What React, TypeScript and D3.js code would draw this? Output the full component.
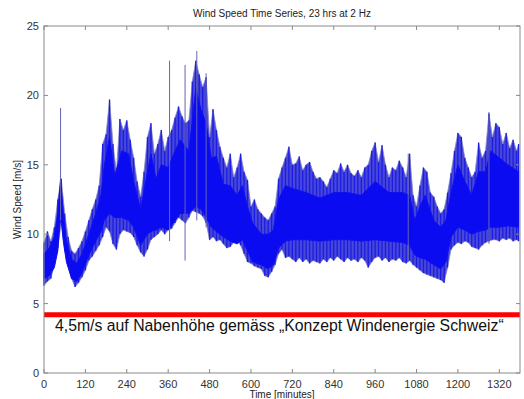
import React from 'react';
import * as d3 from 'd3';

// outer envelope (extremes of the 2 Hz trace), every 10 minutes (0 .. 1380)
const highEnvelope = [
  9.4, 10.2, 9.5, 10.5, 12.5, 14.0, 11.5, 9.8, 8.8, 8.6,
  9.0, 9.5, 10.2, 11.0, 11.8, 12.5, 13.5, 16.5, 17.2, 19.7,
  16.5, 14.5, 18.3, 17.5, 18.2, 16.8, 15.5, 13.8, 12.7, 14.5,
  17.0, 18.0, 15.8, 16.5, 17.5, 16.0, 17.0, 17.5, 18.4, 19.2,
  18.5, 18.0, 18.2, 21.0, 22.5, 21.5, 20.6, 21.3, 17.0, 19.0,
  17.5, 16.3, 15.5, 14.8, 15.8, 14.1, 14.8, 15.8, 14.5, 13.9,
  12.0, 12.5, 11.8, 11.5, 11.2, 11.0, 11.5, 12.0, 14.0, 14.8,
  15.5, 16.3, 15.0, 15.1, 15.6, 14.6, 15.0, 15.2, 14.5, 14.0,
  14.1, 13.8, 13.4, 14.0, 14.6, 14.4, 15.1, 14.5, 15.0, 14.4,
  14.2, 14.6, 14.1, 14.8, 15.0, 16.0, 16.6, 15.2, 16.4, 15.0,
  14.1, 14.8, 14.6, 15.3, 14.8, 14.1, 15.8, 12.8, 12.0, 13.5,
  14.8, 14.5, 13.0, 12.7, 12.0, 11.5, 11.8, 13.0, 14.4, 16.0,
  17.3, 17.0, 15.5, 14.8, 14.1, 14.5, 16.6, 15.5, 16.0, 18.7,
  17.0, 18.0, 17.7, 16.5, 17.3, 16.2, 16.8, 16.0, 16.5
];

const lowEnvelope = [
  6.3, 6.6, 6.8, 7.8, 9.0, 10.8, 8.8, 7.8, 6.8, 6.2,
  6.5, 6.9, 7.4, 8.1, 8.4, 8.8, 9.2, 9.8, 10.5, 10.2,
  9.3, 8.9, 10.0, 10.3, 10.2, 10.1, 9.8, 9.2, 8.7, 8.4,
  8.9, 9.6, 9.8, 10.0, 10.3, 10.0, 10.3, 10.4, 10.8, 11.2,
  11.0, 10.8, 11.2, 11.7, 11.6, 11.5, 11.3, 10.8, 9.6, 9.8,
  9.5, 9.6, 9.3, 9.0, 9.1, 9.4, 9.6, 9.2, 8.6, 8.0,
  7.9, 7.7, 7.6, 7.5, 7.0, 6.9, 7.3, 7.8, 8.6, 8.9,
  8.3, 8.4, 8.2, 8.0, 8.3, 8.0, 8.2, 7.9, 8.1, 8.0,
  7.9, 8.2, 8.0, 8.3, 8.1, 8.4, 8.2, 8.0, 8.3, 8.1,
  8.2, 8.0, 8.3, 8.1, 7.6, 8.0, 8.3, 8.4, 8.1, 8.3,
  8.0, 8.2, 8.1, 8.3, 8.0, 7.9, 8.1, 7.8, 7.6, 7.4,
  7.2, 7.1, 7.0, 6.9, 6.8, 6.7, 6.5, 7.6, 8.9, 9.2,
  9.4, 9.3, 9.5, 9.4, 9.1, 9.0, 8.9, 9.2, 9.4, 9.5,
  9.6, 9.6, 9.5, 9.7, 9.6, 9.7, 9.5, 9.6, 9.5
];

// dense core of the trace (where the blue is solid)
const coreMinutes = [
  0, 15, 30, 40, 48, 56, 65, 80, 95, 110, 130, 150, 165, 175, 190, 205, 225, 245, 260, 280,
  300, 310, 325, 340, 360, 380, 395, 420, 440, 455, 470, 485, 500, 520, 540, 560, 575, 590, 605, 630,
  650, 665, 680, 700, 720, 760, 800, 840, 880, 920, 960, 1000, 1040, 1060, 1075, 1090, 1105, 1130, 1150, 1165,
  1180, 1200, 1220, 1240, 1260, 1280, 1295, 1320, 1345, 1376
];
const coreTop = [
  8.6, 9.0, 9.8, 11.5, 14.0, 11.5, 9.5, 8.2, 7.9, 8.6, 10.0, 11.5, 12.8, 15.0, 17.0, 14.2, 16.0, 15.8, 13.8, 11.8,
  14.5, 15.8, 14.0, 15.0, 14.8, 16.0, 16.8, 16.0, 20.5, 19.0, 18.0, 15.5, 15.6, 13.6, 13.5, 12.8, 13.5, 12.0, 10.8, 10.0,
  10.0, 10.3, 12.5, 13.5, 13.3, 13.0, 12.6, 13.0, 13.0, 12.8, 13.8, 13.0, 13.0, 12.8, 11.0, 12.0, 12.8, 11.0, 10.5, 11.0,
  13.0, 15.0, 13.8, 12.8, 14.5, 14.5, 16.0, 15.5, 15.0, 14.5
];
const coreBottom = [
  6.8, 7.0, 7.6, 8.8, 11.5, 9.5, 8.0, 6.8, 6.6, 7.2, 8.5, 9.5, 10.2, 11.0, 11.5, 11.2, 11.2, 11.0, 10.5, 9.2,
  10.0, 10.2, 10.3, 10.5, 10.3, 11.0, 11.5, 11.5, 12.0, 11.8, 11.2, 10.5, 10.2, 9.8, 9.5, 9.3, 9.6, 8.8, 8.0, 7.8,
  7.5, 7.8, 9.0, 9.5, 9.6, 9.6, 9.5, 9.6, 9.6, 9.5, 9.6, 9.5, 9.4, 9.2, 8.5, 8.3, 8.2, 7.8, 7.5, 8.0,
  9.8, 10.5, 10.3, 10.0, 10.2, 10.3, 10.5, 10.5, 10.6, 10.5
];

// isolated gusts that stick out of the envelope
const spikeMinutes = [48, 364, 409, 443, 470, 1056, 1290];
const spikeLow = [11.0, 9.5, 8.1, 11.0, 10.5, 8.0, 9.3];
const spikeHigh = [19.1, 22.5, 22.2, 23.2, 21.6, 15.8, 18.8];

const xTicks = [0, 120, 240, 360, 480, 600, 720, 840, 960, 1080, 1200, 1320];
const yTicks = [0, 5, 10, 15, 20, 25];
const threshold = 4.2;

const width = 524;
const height = 399;
const margin = { top: 26, right: 4, bottom: 26, left: 44 };

type Band = { t: number; hi: number; lo: number };

export default function App() {
  const x = d3.scaleLinear().domain([0, 1380]).range([margin.left, width - margin.right]);
  const y = d3.scaleLinear().domain([0, 25]).range([height - margin.bottom, margin.top]);

  const outer: Band[] = highEnvelope.map((h, i) => ({ t: Math.min(i * 10, 1376), hi: h, lo: lowEnvelope[i] }));
  const core: Band[] = coreMinutes.map((t, i) => ({ t, hi: coreTop[i], lo: coreBottom[i] }));

  const band = d3.area<Band>()
    .x(d => x(d.t))
    .y0(d => y(d.lo))
    .y1(d => y(d.hi));

  const x0 = x(0), x1 = x(1380), yb = y(0), yt = y(25);
  const axisColor = '#8a8a8a';
  const font = 'Arial, "Liberation Sans", sans-serif';

  return (
    <svg width={width} height={height} style={{ position: 'absolute', left: 0, top: 0, background: '#fff' }}>
      <text x={(x0 + x1) / 2} y={17} textAnchor="middle" fontSize={10} fontFamily={font} fill="#222">
        Wind Speed Time Series, 23 hrs at 2 Hz
      </text>

      {/* ragged fringe of the extremes, the sample lines, then the solid core */}
      <path d={band(outer) ?? ''} fill="#4848d8" stroke="#8a8ac4" strokeWidth={0.8} />
      {outer.map(d => (
        <line key={'s' + d.t} x1={x(d.t)} x2={x(d.t)} y1={y(d.lo)} y2={y(d.hi)} stroke="#1c1ce4" strokeWidth={1.3} />
      ))}
      <path d={band(core) ?? ''} fill="#0b0bf2" stroke="#1010ee" strokeWidth={1} />
      {spikeMinutes.map((m, i) => (
        <line key={m} x1={x(m)} x2={x(m)} y1={y(spikeLow[i])} y2={y(spikeHigh[i])} stroke="#6464b8" strokeWidth={1} />
      ))}

      <line x1={x0} x2={x1} y1={y(threshold)} y2={y(threshold)} stroke="#ff0000" strokeWidth={5} />
      <text x={55} y={331} fontSize={15.8} fontFamily={font} fill="#111">
        4,5m/s auf Nabenhöhe gemäss „Konzept Windenergie Schweiz“
      </text>

      {/* box with inward ticks, matlab style */}
      <rect x={x0} y={yt} width={x1 - x0} height={yb - yt} fill="none" stroke={axisColor} strokeWidth={1} />
      {xTicks.map(t => (
        <g key={'x' + t}>
          <line x1={x(t)} x2={x(t)} y1={yb} y2={yb - 4} stroke={axisColor} />
          <line x1={x(t)} x2={x(t)} y1={yt} y2={yt + 4} stroke={axisColor} />
          <text x={x(t)} y={388} textAnchor="middle" fontSize={11} fontFamily={font} fill="#333">{t}</text>
        </g>
      ))}
      {yTicks.map(t => (
        <g key={'y' + t}>
          <line x1={x0} x2={x0 + 4} y1={y(t)} y2={y(t)} stroke={axisColor} />
          <line x1={x1} x2={x1 - 4} y1={y(t)} y2={y(t)} stroke={axisColor} />
          <text x={39} y={y(t) + 4} textAnchor="end" fontSize={11} fontFamily={font} fill="#333">{t}</text>
        </g>
      ))}

      <text x={(x0 + x1) / 2} y={398} textAnchor="middle" fontSize={10} fontFamily={font} fill="#222">
        Time [minutes]
      </text>
      <text transform={`translate(21,${(yb + yt) / 2}) rotate(-90)`} textAnchor="middle" fontSize={10} fontFamily={font} fill="#222">
        Wind Speed [m/s]
      </text>
    </svg>
  );
}
